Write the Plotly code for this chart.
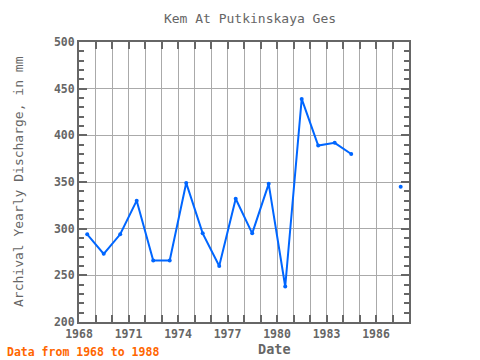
import plotly.graph_objects as go

years = [1968, 1969, 1970, 1971, 1972, 1973, 1974, 1975, 1976, 1977, 1978,
         1979, 1980, 1981, 1982, 1983, 1984, 1985, 1986, 1987]
discharge = [294, 273, 294, 330, 266, 266, 349, 295, 260, 332, 295,
             348, 238, 439, 389, 392, 380, None, None, 345]
x_dates = [f"{y}-07-01" for y in years]

title_text = "Kem At Putkinskaya Ges"
y_title = "Archival Yearly Discharge, in mm"
x_title = "Date"
footnote = "Data from 1968 to 1988"

FONT = "DejaVu Sans Mono"
AX = "#666666"
GRID = "#aaaaaa"

L, R, T, B = 79, 409, 42, 322
PW, PH = R - L, B - T

fig = go.Figure()
fig.add_trace(go.Scatter(
    x=x_dates, y=discharge, mode="lines+markers",
    line=dict(color="#0066ff", width=2),
    marker=dict(color="#0066ff", size=4),
    connectgaps=False, showlegend=False,
))

fig.update_layout(
    width=480, height=360,
    margin=dict(l=L, r=480 - R, t=T, b=360 - B, autoexpand=False),
    paper_bgcolor="white", plot_bgcolor="white",
    font=dict(family=FONT, color=AX),
    title=dict(text=title_text, x=250/480, xref="container", xanchor="center",
               y=1 - 18/360, yref="container", yanchor="middle",
               font=dict(family=FONT, size=13, color=AX)),
    xaxis=dict(
        type="date", range=["1968-01-01", "1988-01-01"], automargin=False,
        tick0="1968-01-01", dtick="M36", tickformat="%Y",
        ticks="inside", ticklen=7, tickwidth=2, tickcolor=AX,
        showgrid=True, gridcolor=GRID, gridwidth=1,
        showline=True, linecolor=AX, linewidth=2, mirror="allticks",
        tickfont=dict(family=FONT, size=11.5, color=AX, weight="bold"),
        minor=dict(dtick="M12", tick0="1968-01-01", ticks="inside", ticklen=7,
                   tickwidth=2, tickcolor=AX, showgrid=True, gridcolor=GRID, gridwidth=1),
        zeroline=False,
    ),
    yaxis=dict(
        range=[200, 500], dtick=50, tick0=200, automargin=False,
        ticks="inside", ticklen=8, tickwidth=2, tickcolor=AX,
        showgrid=True, gridcolor=GRID, gridwidth=1,
        showline=True, linecolor=AX, linewidth=2, mirror="allticks",
        tickfont=dict(family=FONT, size=11.5, color=AX, weight="bold"),
        minor=dict(dtick=10, ticks="inside", ticklen=5, tickwidth=2, tickcolor=AX,
                   showgrid=False),
        zeroline=False,
    ),
)

# y-axis title as rotated annotation
fig.add_annotation(text=y_title, x=(18 - L)/PW, y=0.5, xref="paper", yref="paper",
                   showarrow=False, textangle=-90, xanchor="center", yanchor="middle",
                   font=dict(family=FONT, size=13, color=AX))
fig.add_annotation(text=x_title, x=(274 - L)/PW, y=(B - 349)/PH, xref="paper", yref="paper",
                   showarrow=False, xanchor="center", yanchor="middle",
                   font=dict(family=FONT, size=13.5, color=AX, weight="bold"))
fig.add_annotation(text=footnote, x=(5 - L)/PW, y=(B - 352)/PH, xref="paper", yref="paper",
                   showarrow=False, xanchor="left", yanchor="middle",
                   font=dict(family=FONT, size=11.5, color="#ff6600", weight="bold"))

fig.write_html("out.html",
               config={"displayModeBar": False},
               post_script="document.body.style.margin='0';document.body.style.padding='0';")
